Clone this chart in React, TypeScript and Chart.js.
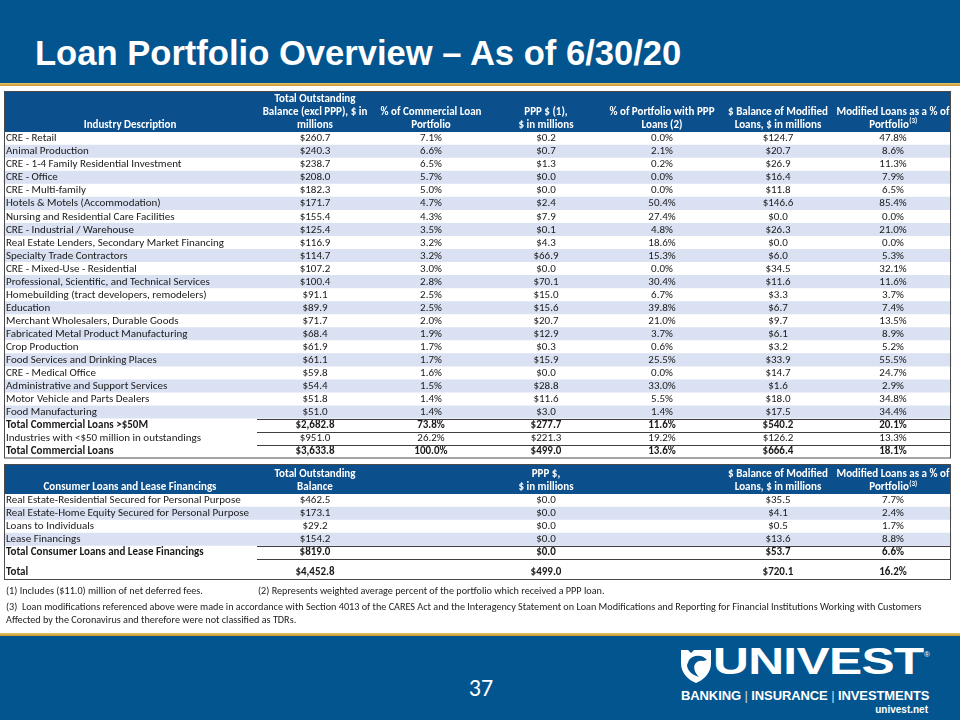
import React, { useEffect, useRef } from "react";
import { Chart, registerables } from "chart.js";
Chart.register(...registerables);

// ---------- DATA ----------
const industries = [
  "CRE - Retail",
  "Animal Production",
  "CRE - 1-4 Family Residential Investment",
  "CRE - Office",
  "CRE - Multi-family",
  "Hotels & Motels (Accommodation)",
  "Nursing and Residential Care Facilities",
  "CRE - Industrial / Warehouse",
  "Real Estate Lenders, Secondary Market Financing",
  "Specialty Trade Contractors",
  "CRE - Mixed-Use - Residential",
  "Professional, Scientific, and Technical Services",
  "Homebuilding (tract developers, remodelers)",
  "Education",
  "Merchant Wholesalers, Durable Goods",
  "Fabricated Metal Product Manufacturing",
  "Crop Production",
  "Food Services and Drinking Places",
  "CRE - Medical Office",
  "Administrative and Support Services",
  "Motor Vehicle and Parts Dealers",
  "Food Manufacturing",
  "Total Commercial Loans >$50M",
  "Industries with <$50 million in outstandings",
  "Total Commercial Loans",
];
const balanceExclPPP = [260.7, 240.3, 238.7, 208.0, 182.3, 171.7, 155.4, 125.4, 116.9, 114.7, 107.2, 100.4, 91.1, 89.9, 71.7, 68.4, 61.9, 61.1, 59.8, 54.4, 51.8, 51.0, 2682.8, 951.0, 3633.8];
const pctCommercial = [7.1, 6.6, 6.5, 5.7, 5.0, 4.7, 4.3, 3.5, 3.2, 3.2, 3.0, 2.8, 2.5, 2.5, 2.0, 1.9, 1.7, 1.7, 1.6, 1.5, 1.4, 1.4, 73.8, 26.2, 100.0];
const pppMillions = [0.2, 0.7, 1.3, 0.0, 0.0, 2.4, 7.9, 0.1, 4.3, 66.9, 0.0, 70.1, 15.0, 15.6, 20.7, 12.9, 0.3, 15.9, 0.0, 28.8, 11.6, 3.0, 277.7, 221.3, 499.0];
const pctWithPPP = [0.0, 2.1, 0.2, 0.0, 0.0, 50.4, 27.4, 4.8, 18.6, 15.3, 0.0, 30.4, 6.7, 39.8, 21.0, 3.7, 0.6, 25.5, 0.0, 33.0, 5.5, 1.4, 11.6, 19.2, 13.6];
const modifiedBalance = [124.7, 20.7, 26.9, 16.4, 11.8, 146.6, 0.0, 26.3, 0.0, 6.0, 34.5, 11.6, 3.3, 6.7, 9.7, 6.1, 3.2, 33.9, 14.7, 1.6, 18.0, 17.5, 540.2, 126.2, 666.4];
const modifiedPct = [47.8, 8.6, 11.3, 7.9, 6.5, 85.4, 0.0, 21.0, 0.0, 5.3, 32.1, 11.6, 3.7, 7.4, 13.5, 8.9, 5.2, 55.5, 24.7, 2.9, 34.8, 34.4, 20.1, 13.3, 18.1];
const commercialBoldRows = [22, 24];
const commercialRuleRows = [22, 23, 24];

const consumerCategories = [
  "Real Estate-Residential Secured for Personal Purpose",
  "Real Estate-Home Equity Secured for Personal Purpose",
  "Loans to Individuals",
  "Lease Financings",
  "Total Consumer Loans and Lease Financings",
];
const consumerBalance = [462.5, 173.1, 29.2, 154.2, 819.0];
const consumerPPP = [0.0, 0.0, 0.0, 0.0, 0.0];
const consumerModifiedBalance = [35.5, 4.1, 0.5, 13.6, 53.7];
const consumerModifiedPct = [7.7, 2.4, 1.7, 8.8, 6.6];
const consumerBoldRows = [4];

const grandTotalLabel = "Total";
const grandTotalBalance = 4452.8;
const grandTotalPPP = 499.0;
const grandTotalModifiedBalance = 720.1;
const grandTotalModifiedPct = 16.2;

const commercialHeaders = [
  ["Industry Description"],
  ["Total Outstanding", "Balance (excl PPP), $ in", "millions"],
  ["% of Commercial Loan", "Portfolio"],
  ["PPP $ (1),", "$ in millions"],
  ["% of Portfolio with PPP", "Loans (2)"],
  ["$ Balance of Modified", "Loans, $ in millions"],
  ["Modified Loans as a % of", "Portfolio^(3)"],
];
const consumerHeaders = [
  ["Consumer Loans and Lease Financings"],
  ["Total Outstanding", "Balance"],
  ["PPP $,", "$ in millions"],
  ["$ Balance of Modified", "Loans, $ in millions"],
  ["Modified Loans as a % of", "Portfolio^(3)"],
];

const footnote1 = "(1) Includes ($11.0) million of net deferred fees.";
const footnote2 = "(2) Represents weighted average percent of the portfolio which received a PPP loan.";
const footnote3a = "(3)  Loan modifications referenced above were made in accordance with Section 4013 of the CARES Act and the Interagency Statement on Loan Modifications and Reporting for Financial Institutions Working with Customers";
const footnote3b = "Affected by the Coronavirus and therefore were not classified as TDRs.";

const titleText = "Loan Portfolio Overview \u2013 As of 6/30/20";
const pageNumber = "37";

// ---------- STYLE / LAYOUT ----------
const FONT = 'Carlito, Calibri, Lato, "Noto Sans", sans-serif';
const ROW_FONT_SIZE = 11;
const HEAD_FONT_SIZE = 11;
const SLIDE_BLUE = "#02558F";
const HEADER_BLUE = "#0B4F8C";
const BAND = "#D9E1F2";
const TEXT = "#1A1A1A";
const RULE = "#3F3F3F";
const TABLE_LEFT = 4;
const TABLE_RIGHT = 951;
const LABEL_HEADER_X = 130;
const RULE_START = 257;
const COL_BAL = 315;
const COL_PCT = 431;
const COL_PPP = 546;
const COL_PPPPCT = 662;
const COL_MODBAL = 778;
const COL_MODPCT = 893;

const money = (v: number) =>
  "$" + v.toLocaleString("en-US", { minimumFractionDigits: 1, maximumFractionDigits: 1 });
const pct = (v: number) => v.toFixed(1) + "%";

function drawHeaderLine(ctx: CanvasRenderingContext2D, text: string, cx: number, cy: number) {
  const parts = text.split("^");
  ctx.font = `bold ${HEAD_FONT_SIZE}px ${FONT}`;
  if (parts.length === 1) {
    ctx.textAlign = "center";
    ctx.fillText(text, cx, cy);
    return;
  }
  const w = ctx.measureText(parts[0]).width;
  ctx.font = `bold 7px ${FONT}`;
  const ws = ctx.measureText(parts[1]).width;
  const start = cx - (w + ws) / 2;
  ctx.textAlign = "left";
  ctx.font = `bold ${HEAD_FONT_SIZE}px ${FONT}`;
  ctx.fillText(parts[0], start, cy);
  ctx.font = `bold 7px ${FONT}`;
  ctx.fillText(parts[1], start + w + 0.5, cy - 3.5);
}

function drawHeader(
  ctx: CanvasRenderingContext2D,
  headers: string[][],
  xs: number[],
  L: number,
  R: number,
  top: number,
  headerBottom: number,
  lastLineOffset: number
) {
  ctx.fillStyle = HEADER_BLUE;
  ctx.fillRect(L, top, R - L, headerBottom - top);
  ctx.fillStyle = "#fff";
  ctx.textBaseline = "middle";
  headers.forEach((lines, c) => {
    const cx = xs[c];
    lines.forEach((t, k) => {
      const cy = headerBottom - lastLineOffset - (lines.length - 1 - k) * 12.8;
      drawHeaderLine(ctx, t, cx, cy);
    });
  });
}

const commercialPlugin = {
  id: "commercialTable",
  afterDatasetsDraw(chart: any) {
    const { ctx, chartArea, scales } = chart;
    const x = scales.x;
    const y = scales.y;
    const L = x.getPixelForValue(TABLE_LEFT);
    const R = x.getPixelForValue(TABLE_RIGHT);
    ctx.save();
    const headerXs = [LABEL_HEADER_X, COL_BAL, COL_PCT, COL_PPP, COL_PPPPCT, COL_MODBAL, COL_MODPCT].map((v) =>
      x.getPixelForValue(v)
    );
    drawHeader(ctx, commercialHeaders, headerXs, L, R, 1, chartArea.top, 7);

    ctx.textBaseline = "middle";
    industries.forEach((name, i) => {
      const cy = y.getPixelForValue(i);
      const bold = commercialBoldRows.includes(i);
      ctx.font = `${bold ? "bold " : ""}${ROW_FONT_SIZE}px ${FONT}`;
      ctx.fillStyle = TEXT;
      ctx.textAlign = "left";
      ctx.fillText(name, L + 2, cy);
      ctx.textAlign = "center";
      const vals = [
        money(balanceExclPPP[i]),
        pct(pctCommercial[i]),
        money(pppMillions[i]),
        pct(pctWithPPP[i]),
        money(modifiedBalance[i]),
        pct(modifiedPct[i]),
      ];
      vals.forEach((v, c) => ctx.fillText(v, headerXs[c + 1], cy));
    });

    ctx.strokeStyle = RULE;
    ctx.lineWidth = 1;
    commercialRuleRows.forEach((i) => {
      const yy = Math.round((y.getPixelForValue(i - 1) + y.getPixelForValue(i)) / 2) + 0.5;
      ctx.beginPath();
      ctx.moveTo(x.getPixelForValue(RULE_START), yy);
      ctx.lineTo(R, yy);
      ctx.stroke();
    });
    ctx.strokeStyle = "#4A4A4A";
    ctx.strokeRect(L + 0.5, 1.5, R - L - 1, chartArea.bottom - 1.5);
    ctx.restore();
  },
};

const consumerPlugin = {
  id: "consumerTable",
  afterDatasetsDraw(chart: any) {
    const { ctx, chartArea, scales } = chart;
    const x = scales.x;
    const y = scales.y;
    const L = x.getPixelForValue(TABLE_LEFT);
    const R = x.getPixelForValue(TABLE_RIGHT);
    ctx.save();
    const xs = [LABEL_HEADER_X, COL_BAL, COL_PPP, COL_MODBAL, COL_MODPCT].map((v) => x.getPixelForValue(v));
    drawHeader(ctx, consumerHeaders, xs, L, R, 1, chartArea.top, 6.5);

    ctx.textBaseline = "middle";
    const rowH = y.getPixelForValue(1) - y.getPixelForValue(0);
    const drawRow = (label: string, vals: string[], cy: number, bold: boolean) => {
      ctx.font = `${bold ? "bold " : ""}${ROW_FONT_SIZE}px ${FONT}`;
      ctx.fillStyle = TEXT;
      ctx.textAlign = "left";
      ctx.fillText(label, L + 2, cy);
      ctx.textAlign = "center";
      vals.forEach((v, c) => ctx.fillText(v, xs[c + 1], cy));
    };
    consumerCategories.forEach((name, i) => {
      drawRow(
        name,
        [money(consumerBalance[i]), money(consumerPPP[i]), money(consumerModifiedBalance[i]), pct(consumerModifiedPct[i])],
        y.getPixelForValue(i),
        consumerBoldRows.includes(i)
      );
    });
    const totalY = chartArea.bottom + rowH;
    drawRow(
      grandTotalLabel,
      [money(grandTotalBalance), money(grandTotalPPP), money(grandTotalModifiedBalance), pct(grandTotalModifiedPct)],
      totalY,
      true
    );

    ctx.strokeStyle = RULE;
    ctx.lineWidth = 1;
    const ruleYs = [
      Math.round((y.getPixelForValue(3) + y.getPixelForValue(4)) / 2) + 0.5,
      Math.round(chartArea.bottom) + 0.5,
    ];
    ruleYs.forEach((yy) => {
      ctx.beginPath();
      ctx.moveTo(x.getPixelForValue(RULE_START), yy);
      ctx.lineTo(R, yy);
      ctx.stroke();
    });
    const tableBottom = Math.round(chartArea.bottom + rowH * 1.55) + 0.5;
    ctx.strokeStyle = "#4A4A4A";
    ctx.strokeRect(L + 0.5, 1.5, R - L - 1, tableBottom - 1.5);

    // footnotes
    ctx.fillStyle = "#222";
    ctx.textAlign = "left";
    ctx.font = `10.2px ${FONT}`;
    ctx.fillText(footnote1, L + 2, tableBottom + 12);
    ctx.fillText(footnote2, x.getPixelForValue(258), tableBottom + 12);
    ctx.fillText(footnote3a, L + 2, tableBottom + 28, 944);
    ctx.fillText(footnote3b, L + 2, tableBottom + 41);
    ctx.restore();
  },
};

function TableChart(props: {
  labels: string[];
  bands: string[];
  plugin: any;
  top: number;
  height: number;
  padTop: number;
  padBottom: number;
}) {
  const ref = useRef<HTMLCanvasElement>(null);
  useEffect(() => {
    if (!ref.current) return;
    const chart = new Chart(ref.current, {
      type: "bar",
      data: {
        labels: props.labels,
        datasets: [
          {
            data: props.labels.map(() => [TABLE_LEFT, TABLE_RIGHT]) as any,
            backgroundColor: props.bands,
            borderWidth: 0,
            barPercentage: 1,
            categoryPercentage: 1,
          },
        ],
      },
      options: {
        indexAxis: "y",
        animation: false,
        responsive: false,
        events: [],
        layout: { padding: { top: props.padTop, bottom: props.padBottom, left: 0, right: 0 } },
        plugins: { legend: { display: false }, tooltip: { enabled: false } },
        scales: {
          x: { type: "linear", min: 0, max: 960, display: false },
          y: { type: "category", display: false, offset: true },
        },
      },
      plugins: [props.plugin],
    });
    return () => chart.destroy();
  }, []);
  return (
    <canvas
      ref={ref}
      width={960}
      height={props.height}
      style={{ position: "absolute", left: 0, top: props.top, width: 960, height: props.height }}
    />
  );
}

function Shield() {
  return (
    <svg width="32" height="36" viewBox="0 0 32 36" style={{ position: "absolute", left: 680, top: 648 }}>
      <path d="M1 2 L8 2 L11 5 L14 2 L31 2 L31 15 C31 26 23 32 16 35 C9 32 1 26 1 15 Z" fill="#fff" />
      <path d="M9 12 C14 6 23 7 27 12 L23 13 C20 12 17 13 15 16 C13 20 15 25 19 29 C12 27 7 22 7 17 Z" fill={SLIDE_BLUE} />
    </svg>
  );
}

export default function App() {
  const commercialBands = industries.map((_, i) => (i % 2 === 1 && i < 22 ? BAND : "#ffffff"));
  const consumerBands = consumerCategories.map((_, i) => (i % 2 === 1 ? BAND : "#ffffff"));
  return (
    <div
      style={{
        position: "absolute",
        left: 0,
        top: 0,
        width: 960,
        height: 720,
        background: "#fff",
        overflow: "hidden",
      }}
    >
      <div style={{ position: "absolute", left: 0, top: 0, width: 960, height: 83, background: SLIDE_BLUE }} />
      <div
        style={{
          position: "absolute",
          left: 0,
          top: 83,
          width: 960,
          height: 3,
          background: "linear-gradient(#E9C46A, #C8962C)",
        }}
      />
      <div
        style={{
          position: "absolute",
          left: 35,
          top: 36,
          font: 'bold 34.6px/34px "Liberation Sans", Arial, sans-serif',
          color: "#fff",
          whiteSpace: "nowrap",
        }}
      >
        {titleText}
      </div>

      <TableChart
        labels={industries}
        bands={commercialBands}
        plugin={commercialPlugin}
        top={90}
        height={369}
        padTop={42}
        padBottom={1}
      />
      <TableChart
        labels={consumerCategories}
        bands={consumerBands}
        plugin={consumerPlugin}
        top={463}
        height={169}
        padTop={31}
        padBottom={73}
      />

      <div
        style={{
          position: "absolute",
          left: 0,
          top: 633,
          width: 960,
          height: 3,
          background: "linear-gradient(#E9C46A, #C8962C)",
        }}
      />
      <div style={{ position: "absolute", left: 0, top: 636, width: 960, height: 84, background: SLIDE_BLUE }} />
      <div
        style={{
          position: "absolute",
          left: 441,
          width: 80,
          top: 674,
          textAlign: "center",
          font: `24px/28px ${FONT}`,
          color: "#fff",
        }}
      >
        {pageNumber}
      </div>
      <Shield />
      <div
        style={{
          position: "absolute",
          left: 713,
          top: 642,
          font: 'bold 36px/40px "Liberation Sans", Arial, sans-serif',
          color: "#fff",
          transform: "scaleX(1.38)",
          transformOrigin: "left top",
          whiteSpace: "nowrap",
          letterSpacing: "-0.5px",
        }}
      >
        UNIVEST
      </div>
      <div style={{ position: "absolute", left: 924, top: 650, font: '8px "Liberation Sans", Arial', color: "#fff" }}>
        ®
      </div>
      <div
        style={{
          position: "absolute",
          left: 681,
          top: 688,
          font: 'bold 13px/16px "Liberation Sans", Arial, sans-serif',
          color: "#fff",
          whiteSpace: "nowrap",
          letterSpacing: "-0.1px",
        }}
      >
        BANKING <span style={{ fontWeight: 300, color: "#cfd8e6" }}>|</span> INSURANCE{" "}
        <span style={{ fontWeight: 300, color: "#cfd8e6" }}>|</span> INVESTMENTS
      </div>
      <div
        style={{
          position: "absolute",
          right: 32,
          top: 704,
          font: 'bold 10px/12px "Liberation Sans", Arial, sans-serif',
          color: "#fff",
        }}
      >
        univest.net
      </div>
    </div>
  );
}
